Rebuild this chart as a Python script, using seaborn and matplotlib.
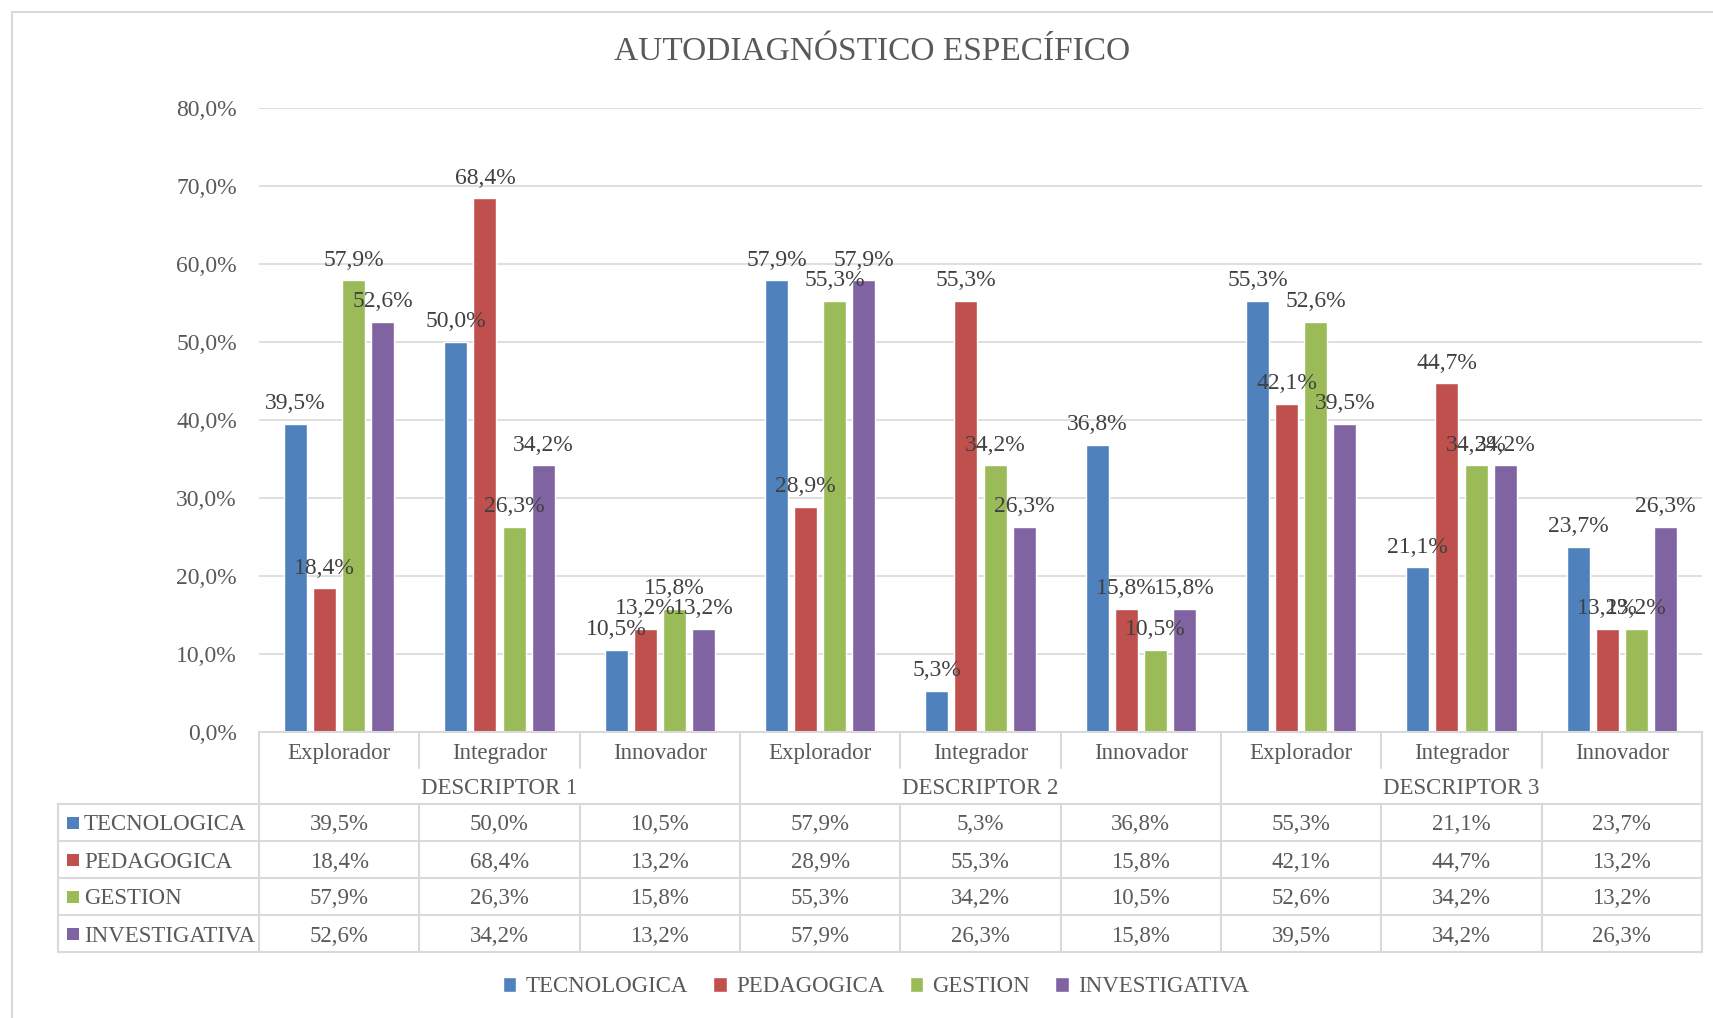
import matplotlib
matplotlib.use("Agg")
import matplotlib.pyplot as plt
import matplotlib.transforms as mtransforms
from matplotlib.lines import Line2D
from matplotlib.patches import Rectangle
import seaborn as sns
import pandas as pd

# ---------------- data ----------------
descriptors = ["DESCRIPTOR 1", "DESCRIPTOR 2", "DESCRIPTOR 3"]
levels = ["Explorador", "Integrador", "Innovador"]
series = ["TECNOLOGICA", "PEDAGOGICA", "GESTION", "INVESTIGATIVA"]
tecnologica = [39.5, 50.0, 10.5, 57.9, 5.3, 36.8, 55.3, 21.1, 23.7]
pedagogica = [18.4, 68.4, 13.2, 28.9, 55.3, 15.8, 42.1, 44.7, 13.2]
gestion = [57.9, 26.3, 15.8, 55.3, 34.2, 10.5, 52.6, 34.2, 13.2]
investigativa = [52.6, 34.2, 13.2, 57.9, 26.3, 15.8, 39.5, 34.2, 26.3]
title = "AUTODIAGNÓSTICO ESPECÍFICO"
colors = ["#4F81BD", "#C0504D", "#9BBB59", "#8064A2"]

series_values = [tecnologica, pedagogica, gestion, investigativa]
groups = [f"{d}|{l}" for d in descriptors for l in levels]
rows = []
for s, vals in zip(series, series_values):
    for g, v in zip(groups, vals):
        rows.append({"group": g, "serie": s, "value": v})
df = pd.DataFrame(rows)

def pct(v):
    return f"{v:.1f}%".replace(".", ",")

# ---------------- figure ----------------
sns.set_style("white")
plt.rcParams["font.family"] = ["Liberation Serif", "DejaVu Serif"]
TXT = "#595959"
GRID = "#D9D9D9"
FS = 16.5
FSN = 17
W, H = 1713, 1018
fig = plt.figure(figsize=(W / 100, H / 100), dpi=100)

def fx(px):
    return px / W

def fy(py):
    return 1 - py / H

ax_left, ax_right, ax_top, ax_bottom = 259, 1702, 108, 732
ax = fig.add_axes([fx(ax_left), fy(ax_bottom), fx(ax_right - ax_left), (ax_bottom - ax_top) / H])

sns.barplot(data=df, x="group", y="value", hue="serie", order=groups, hue_order=series,
            palette=colors, saturation=1, width=0.727, gap=0.21, ax=ax, legend=True)

ax.set_ylim(0, 80)
ax.set_xlim(-0.5, len(groups) - 0.5)
ax.set_yticks([0, 10, 20, 30, 40, 50, 60, 70, 80])
ax.set_yticklabels([pct(t) for t in ax.get_yticks()])
ax.tick_params(axis="y", length=0, pad=16, labelsize=FSN, labelcolor=TXT)
ax.set_xticks([])
ax.set_xlabel("")
ax.set_ylabel("")
ax.grid(axis="y", color=GRID, linewidth=1.2)
ax.set_axisbelow(True)
for sp in ax.spines.values():
    sp.set_visible(False)

for cont in ax.containers:
    ax.bar_label(cont, labels=[pct(v) for v in cont.datavalues], padding=7,
                 fontsize=FSN, color="#404040")

fig.text(fx(872), fy(52), title, ha="center", va="center", fontsize=24, color=TXT)

# ---------------- data table ----------------
bt = mtransforms.blended_transform_factory(ax.transData, fig.transFigure)
data_rows = [804, 841, 878, 915, 952]
tab_left = 58

def hline(y, x0, x1):
    fig.add_artist(Line2D([fx(x0), fx(x1)], [fy(y), fy(y)], transform=fig.transFigure,
                          color=GRID, linewidth=1.5))

def vline_data(xd, y0, y1):
    fig.add_artist(Line2D([xd, xd], [fy(y0), fy(y1)], transform=bt, color=GRID, linewidth=1.5))

hline(732, ax_left, ax_right)
for y in data_rows:
    hline(y, tab_left, ax_right)
fig.add_artist(Line2D([fx(tab_left)] * 2, [fy(804), fy(952)], transform=fig.transFigure,
                      color=GRID, linewidth=1.5))
n = len(groups)
for k in range(n + 1):
    xd = -0.5 + k
    if k % 3 == 0:
        vline_data(xd, 732, 952)
    else:
        vline_data(xd, 732, 768)
        vline_data(xd, 804, 952)

for i, g in enumerate(groups):
    lvl = g.split("|")[1]
    fig.text(i, fy(751), lvl, transform=bt, ha="center", va="center_baseline",
             fontsize=FS, color=TXT)
for j, d in enumerate(descriptors):
    fig.text(j * 3 + 1, fy(786), d, transform=bt, ha="center", va="center_baseline",
             fontsize=FS, color=TXT)

for r, (s, vals, c) in enumerate(zip(series, series_values, colors)):
    yc = (data_rows[r] + data_rows[r + 1]) / 2
    fig.add_artist(Rectangle((fx(67), fy(yc + 6)), fx(12), 12 / H, transform=fig.transFigure,
                             facecolor=c, edgecolor="none"))
    fig.text(fx(84), fy(yc), s, ha="left", va="center_baseline", fontsize=FS, color=TXT)
    for i, v in enumerate(vals):
        fig.text(i, fy(yc), pct(v), transform=bt, ha="center", va="center_baseline",
                 fontsize=FS, color=TXT)

# ---------------- legend ----------------
handles, labels = ax.get_legend_handles_labels()
ax.legend(handles, labels, loc="center", bbox_to_anchor=(fx(876), fy(987)),
          bbox_transform=fig.transFigure, ncol=4, frameon=False, fontsize=FS,
          labelcolor=TXT, handlelength=0.6, handleheight=0.6, handletextpad=0.4,
          columnspacing=1.1)

# outer chart border
fig.add_artist(Rectangle((fx(12), -0.02), 1.05, fy(12) + 0.02, transform=fig.transFigure,
                         fill=False, edgecolor=GRID, linewidth=1.5))

fig.savefig("out.png", dpi=100)
